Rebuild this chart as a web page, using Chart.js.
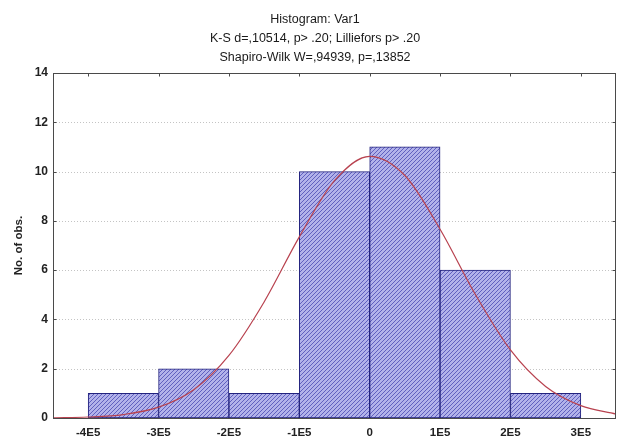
<!DOCTYPE html>
<html>
<head>
<meta charset="utf-8">
<script src="https://cdn.jsdelivr.net/npm/chart.js@4/dist/chart.umd.min.js"></script>
<style>
  html, body { margin: 0; padding: 0; background: #ffffff; }
  #wrap { width: 617px; height: 441px; }
</style>
</head>
<body>
<div id="wrap"><canvas id="c" width="617" height="441"></canvas></div>
<script>
// Heading lines
const titleLines = [
  'Histogram: Var1',
  'K-S d=,10514, p> .20; Lilliefors p> .20',
  'Shapiro-Wilk W=,94939, p=,13852'
];

// Histogram bins (edges) and observed counts per bin
const binEdges = [-400000, -300000, -200000, -100000, 0, 100000, 200000, 300000];
const counts = [1, 2, 1, 10, 11, 6, 1];

// Axis ticks
const xTickValues = [-400000, -300000, -200000, -100000, 0, 100000, 200000, 300000];
const xTickLabels = ['-4E5', '-3E5', '-2E5', '-1E5', '0', '1E5', '2E5', '3E5'];
const yTickValues = [0, 2, 4, 6, 8, 10, 12, 14];

// Expected-normal curve, sampled along x
const curveX = [-450000, -400000, -350000, -300000, -250000, -200000, -150000, -100000, -50000,
                0, 50000, 100000, 150000, 200000, 250000, 300000, 350000];
const curveY = [0.01, 0.04, 0.14, 0.44, 1.15, 2.54, 4.71, 7.35, 9.63,
                10.62, 9.84, 7.66, 5.02, 2.76, 1.28, 0.50, 0.16];

const FONT = "'Liberation Sans', Arial, sans-serif";

function hatchPattern() {
  const p = document.createElement('canvas');
  p.width = 4; p.height = 4;
  const g = p.getContext('2d');
  g.fillStyle = '#b2b2ea';
  g.fillRect(0, 0, 4, 4);
  g.strokeStyle = '#6060bf';
  g.lineWidth = 1;
  g.beginPath();
  g.moveTo(0, 4); g.lineTo(4, 0);
  g.moveTo(-1, 1); g.lineTo(1, -1);
  g.moveTo(3, 5); g.lineTo(5, 3);
  g.stroke();
  return g.createPattern(p, 'repeat');
}

const framePlugin = {
  id: 'frame',
  beforeDatasetsDraw(chart) {
    const { ctx, chartArea: a, scales: { y } } = chart;
    ctx.save();
    ctx.strokeStyle = '#c4c4c4';
    ctx.lineWidth = 1;
    ctx.setLineDash([1, 2]);
    yTickValues.forEach(v => {
      if (v === yTickValues[0] || v === yTickValues[yTickValues.length - 1]) return;
      const py = Math.round(y.getPixelForValue(v)) + 0.5;
      ctx.beginPath();
      ctx.moveTo(a.left, py);
      ctx.lineTo(a.right, py);
      ctx.stroke();
    });
    ctx.restore();
  },
  afterDatasetsDraw(chart) {
    const { ctx, chartArea: a, scales: { x, y } } = chart;
    ctx.save();
    ctx.strokeStyle = '#4a4a4a';
    ctx.lineWidth = 1;
    const L = Math.round(a.left) + 0.5, R = Math.round(a.right) - 0.5;
    const T = Math.round(a.top) + 0.5, B = Math.round(a.bottom) + 0.5;
    ctx.strokeRect(L, T, R - L, B - T);
    ctx.beginPath();
    xTickValues.forEach(v => {
      const px = Math.round(x.getPixelForValue(v)) + 0.5;
      ctx.moveTo(px, T); ctx.lineTo(px, T + 3);
    });
    yTickValues.forEach(v => {
      const py = Math.round(y.getPixelForValue(v)) + 0.5;
      ctx.moveTo(L, py); ctx.lineTo(L + 3, py);
      ctx.moveTo(R, py); ctx.lineTo(R - 3, py);
    });
    ctx.stroke();
    ctx.restore();
  },
  afterDraw(chart) {
    const { ctx } = chart;
    ctx.save();
    ctx.fillStyle = '#1a1a1a';
    ctx.font = '12.5px ' + FONT;
    ctx.textAlign = 'center';
    ctx.textBaseline = 'middle';
    const ys = [20, 39, 58];
    titleLines.forEach((t, i) => ctx.fillText(t, 315, ys[i]));
    ctx.restore();
  }
};

const barData = counts.map((c, i) => ({ x: (binEdges[i] + binEdges[i + 1]) / 2, y: c }));
const curveData = curveX.map((xv, i) => ({ x: xv, y: curveY[i] }));

new Chart(document.getElementById('c'), {
  type: 'bar',
  data: {
    datasets: [
      {
        type: 'line',
        data: curveData,
        borderColor: '#b8424f',
        borderWidth: 1.2,
        pointRadius: 0,
        fill: false,
        cubicInterpolationMode: 'monotone',
        order: 1
      },
      {
        type: 'bar',
        data: barData,
        backgroundColor: hatchPattern(),
        borderColor: '#22227e',
        borderWidth: 1,
        borderSkipped: false,
        barPercentage: 1,
        categoryPercentage: 1,
        order: 2
      }
    ]
  },
  options: {
    responsive: false,
    devicePixelRatio: 1,
    animation: false,
    layout: { padding: { top: 73, right: 1, bottom: 0, left: 0 } },
    plugins: {
      legend: { display: false },
      tooltip: { enabled: false },
      title: { display: false }
    },
    scales: {
      x: {
        type: 'linear',
        offset: false,
        min: -450000,
        max: 350000,
        afterBuildTicks: s => { s.ticks = xTickValues.map(v => ({ value: v })); },
        afterFit: s => { s.height = 23; },
        grid: { display: false, drawTicks: false, offset: false },
        border: { display: false },
        ticks: {
          autoSkip: false,
          maxRotation: 0,
          padding: 8,
          color: '#222222',
          font: { family: FONT, size: 11.5, weight: 'bold' },
          callback: v => xTickLabels[xTickValues.indexOf(v)]
        }
      },
      y: {
        min: 0,
        max: 14,
        afterBuildTicks: s => { s.ticks = yTickValues.map(v => ({ value: v })); },
        afterFit: s => { s.width = 53; },
        grid: { display: false, drawTicks: false },
        border: { display: false },
        ticks: {
          padding: 5,
          color: '#222222',
          font: { family: FONT, size: 12, weight: 'bold' }
        },
        title: {
          display: true,
          text: 'No. of obs.',
          color: '#222222',
          padding: { top: 12, bottom: 0 },
          font: { family: FONT, size: 11.5, weight: 'bold' }
        }
      }
    }
  },
  plugins: [framePlugin]
});
</script>
</body>
</html>
